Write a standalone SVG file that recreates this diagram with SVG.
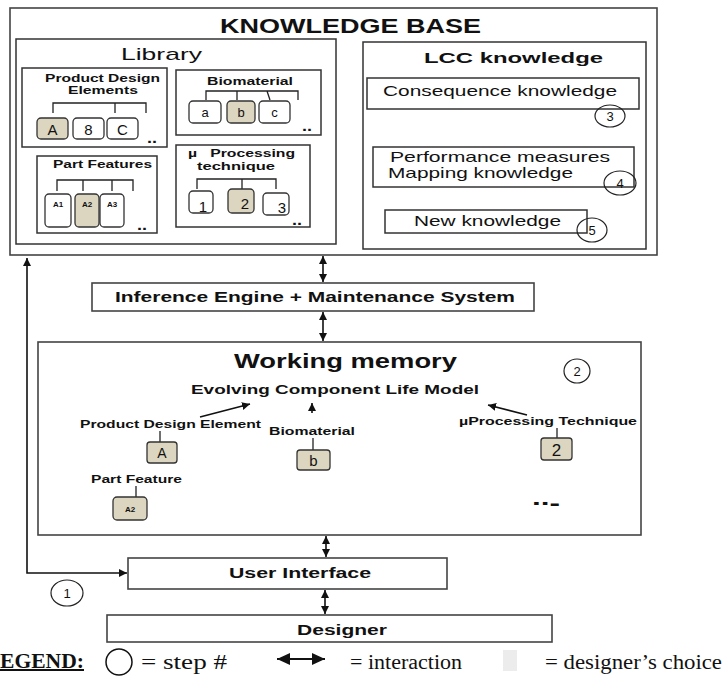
<svg xmlns="http://www.w3.org/2000/svg" width="724" height="698" viewBox="0 0 724 698">
<style>
text{font-family:"Liberation Sans",Arial,sans-serif;fill:#111}
.b{font-weight:bold}
.dots{font-weight:bold;font-size:14px}
.box{fill:#fff;stroke:#444;stroke-width:1.6}
.ibox{fill:none;stroke:#333;stroke-width:1.5}
.item{fill:#fff;stroke:#333;stroke-width:1.3}
.sel{fill:#dcd6c0;stroke:#333;stroke-width:1.3}
.br{fill:none;stroke:#222;stroke-width:1.3}
.step{fill:none;stroke:#222;stroke-width:1.2}
.con{fill:none;stroke:#111;stroke-width:1.6}
.serif{font-family:"Liberation Serif","Times New Roman",serif}
</style>
<defs>
<marker id="ah" markerUnits="userSpaceOnUse" markerWidth="9" markerHeight="9" refX="8" refY="4.5" orient="auto-start-reverse">
<path d="M0,0.5 L8,4.5 L0,8.5 z" fill="#111"/>
</marker>
<marker id="ahL" markerUnits="userSpaceOnUse" markerWidth="14" markerHeight="12" refX="13" refY="6" orient="auto-start-reverse">
<path d="M0,0 L13,6 L0,12 z" fill="#111"/>
</marker>
</defs>

<g id="knowledge-base">
<rect class="box" x="10" y="8" width="647" height="247"/>
<text class="b" x="220" y="33" font-size="21" textLength="261" lengthAdjust="spacingAndGlyphs">KNOWLEDGE BASE</text>
</g>

<g id="library">
<rect class="ibox" x="16" y="39" width="320" height="205"/>
<text x="121" y="60" font-size="17" textLength="81" lengthAdjust="spacingAndGlyphs">Library</text>
</g>

<g id="product-design-elements">
<rect class="ibox" x="22" y="68" width="145" height="79"/>
<text class="b" x="45" y="82" font-size="11" textLength="115" lengthAdjust="spacingAndGlyphs">Product Design</text>
<text class="b" x="68" y="94" font-size="11" textLength="70" lengthAdjust="spacingAndGlyphs">Elements</text>
<path class="br" d="M53,113 V103 H146 V113 M115,103 V113"/>
<rect class="sel" x="37" y="118" width="31" height="21" rx="4"/>
<rect class="item" x="73" y="118" width="31" height="21" rx="4"/>
<rect class="item" x="107" y="118" width="31" height="21" rx="4"/>
<text x="52.5" y="135" font-size="15" text-anchor="middle">A</text>
<text x="88.5" y="135" font-size="15" text-anchor="middle">8</text>
<text x="122.5" y="135" font-size="15" text-anchor="middle">C</text>
<text class="dots" x="147" y="143" textLength="10" lengthAdjust="spacingAndGlyphs">..</text>
</g>

<g id="biomaterial">
<rect class="ibox" x="176" y="70" width="145" height="65"/>
<text class="b" x="207" y="85" font-size="11" textLength="86" lengthAdjust="spacingAndGlyphs">Biomaterial</text>
<path class="br" d="M206,100 V91 H298 V100 M237,91 V100 M267,91 L270,100"/>
<rect class="item" x="189" y="101" width="32" height="22" rx="4"/>
<rect class="sel" x="227" y="101" width="28" height="22" rx="4"/>
<rect class="item" x="259" y="101" width="31" height="22" rx="4"/>
<text x="205" y="117" font-size="13" text-anchor="middle">a</text>
<text x="241" y="117" font-size="13" text-anchor="middle">b</text>
<text x="274.5" y="117" font-size="13" text-anchor="middle">c</text>
<text class="dots" x="302" y="131" textLength="10" lengthAdjust="spacingAndGlyphs">..</text>
</g>

<g id="part-features">
<rect class="ibox" x="37" y="156" width="120" height="77"/>
<text class="b" x="53" y="168" font-size="11" textLength="99" lengthAdjust="spacingAndGlyphs">Part Features</text>
<path class="br" d="M57,191 V180 H133 V191 M83,180 V191 M112,180 V191"/>
<rect class="item" x="45" y="194" width="26" height="33" rx="4"/>
<rect class="sel" x="75" y="194" width="24" height="33" rx="4"/>
<rect class="item" x="100" y="194" width="24" height="33" rx="4"/>
<text class="b" x="58" y="207" font-size="8" text-anchor="middle">A1</text>
<text class="b" x="87" y="207" font-size="8" text-anchor="middle">A2</text>
<text class="b" x="112" y="207" font-size="8" text-anchor="middle">A3</text>
<text class="dots" x="137" y="230" textLength="10" lengthAdjust="spacingAndGlyphs">..</text>
</g>

<g id="processing-technique">
<rect class="ibox" x="176" y="145" width="134" height="82"/>
<text class="b" x="188" y="157" font-size="11" xml:space="preserve" textLength="107" lengthAdjust="spacingAndGlyphs">µ   Processing</text>
<text class="b" x="197" y="170" font-size="11" textLength="78" lengthAdjust="spacingAndGlyphs">technique</text>
<path class="br" d="M197,189 V179 H276 V189 M242,179 V189"/>
<rect class="item" x="189" y="191" width="24" height="22" rx="4"/>
<rect class="sel" x="228" y="189" width="26" height="24" rx="4"/>
<rect class="item" x="263" y="193" width="26" height="22" rx="4"/>
<text x="203" y="212" font-size="15" text-anchor="middle">1</text>
<text x="245" y="209" font-size="15" text-anchor="middle">2</text>
<text x="282" y="213" font-size="15" text-anchor="middle">3</text>
<text class="dots" x="292" y="225" textLength="10" lengthAdjust="spacingAndGlyphs">..</text>
</g>

<g id="lcc-knowledge">
<rect class="ibox" x="363" y="42" width="283" height="207"/>
<text class="b" x="424" y="63" font-size="15" textLength="179" lengthAdjust="spacingAndGlyphs">LCC knowledge</text>
</g>

<g id="consequence-knowledge">
<rect class="ibox" x="367" y="78" width="272" height="31"/>
<text x="383" y="96" font-size="15" textLength="234" lengthAdjust="spacingAndGlyphs">Consequence knowledge</text>
<ellipse class="step" cx="610" cy="116" rx="15" ry="11"/>
<text x="610" y="121" font-size="13" text-anchor="middle">3</text>
</g>

<g id="performance-measures">
<rect class="ibox" x="373" y="147" width="261" height="40"/>
<text x="390" y="162" font-size="15" textLength="220" lengthAdjust="spacingAndGlyphs">Performance measures</text>
<text x="388" y="178" font-size="15" textLength="185" lengthAdjust="spacingAndGlyphs">Mapping knowledge</text>
<ellipse class="step" cx="620" cy="183" rx="16" ry="12"/>
<text x="620" y="188" font-size="13" text-anchor="middle">4</text>
</g>

<g id="new-knowledge">
<rect class="ibox" x="385" y="210" width="202" height="23"/>
<text x="414" y="226" font-size="15" textLength="147" lengthAdjust="spacingAndGlyphs">New knowledge</text>
<ellipse class="step" cx="592" cy="230" rx="15" ry="12"/>
<text x="592" y="235" font-size="13" text-anchor="middle">5</text>
</g>

<g id="inference-engine">
<rect class="box" x="92" y="283" width="442" height="28"/>
<text class="b" x="115" y="302" font-size="15" textLength="400" lengthAdjust="spacingAndGlyphs">Inference Engine + Maintenance System</text>
</g>

<g id="working-memory">
<rect class="box" x="38" y="342" width="603" height="193"/>
<text class="b" x="234" y="368" font-size="21" textLength="223" lengthAdjust="spacingAndGlyphs">Working memory</text>
<ellipse class="step" cx="577" cy="371" rx="13" ry="12"/>
<text x="577" y="376" font-size="13" text-anchor="middle">2</text>
<text class="b" x="191" y="394" font-size="13" textLength="288" lengthAdjust="spacingAndGlyphs">Evolving Component  Life Model</text>
<text class="b" x="532" y="505" font-size="20" textLength="28" lengthAdjust="spacingAndGlyphs">..<tspan dy="5">-</tspan></text>
</g>

<g id="wm-product-design-element">
<text class="b" x="80" y="428" font-size="11.5" textLength="181" lengthAdjust="spacingAndGlyphs">Product Design Element</text>
<line class="br" x1="160" y1="431" x2="160" y2="442"/>
<rect class="sel" x="147" y="442" width="30" height="21" rx="3"/>
<text x="162" y="458" font-size="14" text-anchor="middle">A</text>
</g>

<g id="wm-biomaterial">
<text class="b" x="269" y="435" font-size="11.5" textLength="86" lengthAdjust="spacingAndGlyphs">Biomaterial</text>
<line class="br" x1="313" y1="438" x2="313" y2="450"/>
<rect class="sel" x="297" y="450" width="33" height="20" rx="3"/>
<text x="313.5" y="466" font-size="15" text-anchor="middle">b</text>
</g>

<g id="wm-part-feature">
<text class="b" x="91" y="483" font-size="11.5" textLength="91" lengthAdjust="spacingAndGlyphs">Part Feature</text>
<line class="br" x1="136" y1="486" x2="136" y2="497"/>
<rect class="sel" x="113" y="497" width="34" height="23" rx="4"/>
<text class="b" x="130" y="512" font-size="8" text-anchor="middle">A2</text>
</g>

<g id="wm-processing-technique">
<text class="b" x="459" y="425" font-size="11.5" textLength="178" lengthAdjust="spacingAndGlyphs">µProcessing Technique</text>
<line class="br" x1="557" y1="428" x2="557" y2="438"/>
<rect class="sel" x="541" y="438" width="31" height="22" rx="3"/>
<text x="556.5" y="456" font-size="17" text-anchor="middle">2</text>
</g>

<g id="user-interface">
<rect class="box" x="128" y="558" width="319" height="31"/>
<text class="b" x="229" y="578" font-size="14" textLength="142" lengthAdjust="spacingAndGlyphs">User Interface</text>
</g>

<g id="designer">
<rect class="box" x="107" y="615" width="445" height="27"/>
<text class="b" x="297" y="635" font-size="14" textLength="90" lengthAdjust="spacingAndGlyphs">Designer</text>
</g>

<g id="step-1">
<ellipse class="step" cx="67" cy="593" rx="16" ry="13"/>
<text x="67" y="598" font-size="13" text-anchor="middle">1</text>
</g>

<g id="connectors">
<path class="con" d="M27,258 V573 H127" marker-start="url(#ah)" marker-end="url(#ah)"/>
<line class="con" x1="323" y1="256" x2="323" y2="282" marker-start="url(#ah)" marker-end="url(#ah)"/>
<line class="con" x1="323" y1="312" x2="323" y2="341" marker-start="url(#ah)" marker-end="url(#ah)"/>
<line class="con" x1="326" y1="536" x2="326" y2="557" marker-start="url(#ah)" marker-end="url(#ah)"/>
<line class="con" x1="325" y1="590" x2="325" y2="614" marker-start="url(#ah)" marker-end="url(#ah)"/>
<line class="con" x1="200" y1="417" x2="250" y2="404" marker-end="url(#ah)"/>
<line class="con" x1="312" y1="413" x2="312" y2="403" marker-end="url(#ah)"/>
<line class="con" x1="527" y1="415" x2="488" y2="405" marker-end="url(#ah)"/>
</g>

<g id="legend">
<text class="serif b" x="0" y="668" font-size="20" text-decoration="underline" textLength="84" lengthAdjust="spacingAndGlyphs">EGEND:</text>
<ellipse cx="119" cy="662" rx="13" ry="13" fill="none" stroke="#111" stroke-width="1.5"/>
<text class="serif" x="141" y="669" font-size="20" textLength="86" lengthAdjust="spacingAndGlyphs">= step #</text>
<line x1="277" y1="659" x2="325" y2="659" stroke="#111" stroke-width="2" marker-start="url(#ahL)" marker-end="url(#ahL)"/>
<text class="serif" x="350" y="669" font-size="20" textLength="112" lengthAdjust="spacingAndGlyphs">= interaction</text>
<rect x="503" y="650" width="14" height="21" fill="#ececec"/>
<text class="serif" x="545" y="669" font-size="20" textLength="177" lengthAdjust="spacingAndGlyphs">= designer’s  choice</text>
</g>
</svg>
